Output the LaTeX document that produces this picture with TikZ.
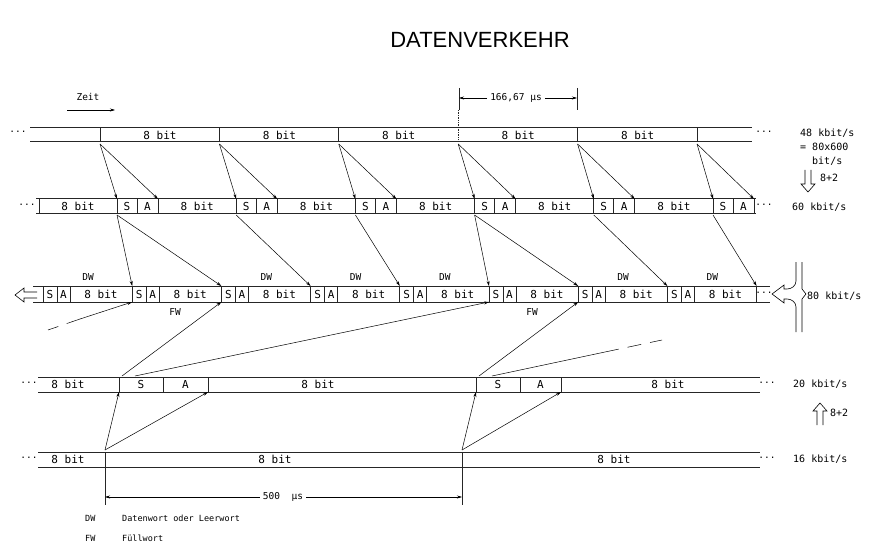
\documentclass[tikz,border=0pt]{standalone}
\usepackage{fontspec}
\setmonofont{DejaVu Sans Mono}
\newfontfamily\titlefont{Liberation Sans}
\usetikzlibrary{positioning, arrows.meta, calc}

\begin{document}
\begin{tikzpicture}[
	x=1pt, y=-1pt,
	>={Stealth[length=5pt, width=3pt]},
	band/.style={line width=1pt, black!85},
	sep/.style={line width=0.7pt, black!85},
	cell/.style={font=\ttfamily\fontsize{11}{12}\selectfont, inner sep=0pt},
	tag/.style={font=\ttfamily\fontsize{9.5}{11}\selectfont, inner sep=0pt},
	note/.style={font=\ttfamily\fontsize{8.5}{10}\selectfont, inner sep=0pt, anchor=west},
	rate/.style={font=\ttfamily\fontsize{10}{12}\selectfont, inner sep=0pt, anchor=west},
	flow/.style={->, line width=0.5pt},
	hollow/.style={line width=0.6pt, line join=miter}
	]
	\useasboundingbox (0,0) rectangle (876,559);
	
	% Title and time direction
	\node[font=\titlefont\fontsize{22}{26}\selectfont] (title) at (480,40) {DATENVERKEHR};
	\node[tag] (zeit) at (88,97) {Zeit};
	\coordinate (zeitA) at (67,110);
	\coordinate (zeitB) at (115,110);
	\draw[flow] (zeitA) -- (zeitB);
	
	% Dimension 166,67 us
	\draw[sep, line width=0.5pt] (459,88) -- (459,110) (577,88) -- (577,110);
	\node[tag, fill=white, inner xsep=3pt] (dimT) at (516,98) {166,67 µs};
	\coordinate (dimTL) at (459,98);
	\coordinate (dimTR) at (577,98);
	\draw[flow] (dimT.west) -- (dimTL);
	\draw[flow] (dimT.east) -- (dimTR);
	
	% Row 1: 48 kbit/s
	\draw[band] (30,128) -- (752,128) (30,142) -- (752,142);
	\foreach \k in {0,...,5}{
		\pgfmathsetmacro\xd{100+119.4*\k}
		\coordinate (r1d\k) at (\xd,144);
		\ifnum\k=3 \draw[sep, densely dotted] (\xd,110) -- (\xd,142);
		\else \draw[sep] (\xd,128) -- (\xd,142); \fi
	}
	\foreach \k in {0,...,4}
		\node[cell] (r1b\k) at (160+119.4*\k,135.5) {8 bit};
	\node[tag] (r1l) at (18,132) {...};
	\node[tag] (r1r) at (764,132) {...};
	
	% Row 2: 60 kbit/s
	\draw[band] (36,199) -- (756,199) (36,213) -- (756,213);
	\draw[sep] (39,199) -- (39,213);
	\foreach \k in {0,...,5}{
		\pgfmathsetmacro\xs{117+119.2*\k}
		\draw[sep] (\xs,199) -- (\xs,213) (\xs+20,199) -- (\xs+20,213) (\xs+41,199) -- (\xs+41,213);
		\coordinate (r2st\k) at (\xs,199);
		\coordinate (r2at\k) at (\xs+41,199);
		\coordinate (r2sb\k) at (\xs,215);
		\node[cell] (r2s\k) at (\xs+10,206) {S};
		\node[cell] (r2a\k) at (\xs+30.5,206) {A};
		\node[cell] (r2b\k) at (78+119.2*\k,206) {8 bit};
	}
	\node[tag] (r2l) at (27,205) {...};
	\node[tag] (r2r) at (764,205) {...};
	
	% Row 3: 80 kbit/s
	\draw[band] (33,286) -- (770,286) (33,302) -- (770,302);
	\foreach \k in {0,...,7}{
		\pgfmathsetmacro\xt{43+89.2*\k}
		\draw[sep] (\xt,286) -- (\xt,302) (\xt+14,286) -- (\xt+14,302) (\xt+27,286) -- (\xt+27,302);
		\node[cell] (r3s\k) at (\xt+7,294) {S};
		\node[cell] (r3a\k) at (\xt+20.5,294) {A};
		\node[cell] (r3b\k) at (\xt+58,294) {8 bit};
	}
	\draw[sep] (756.6,286) -- (756.6,302);
	\foreach \k in {0,...,8}{
		\coordinate (r3t\k) at (43+89.2*\k,286);
		\coordinate (r3u\k) at (43+89.2*\k,302);
	}
	\node[tag] (r3r) at (764,293) {...};
	\foreach \k in {0,2,3,4,6,7}
		\node[tag] (dw\k) at (88+89.2*\k,277) {DW};
	\foreach \k in {1,5}
		\node[tag] (fw\k) at (86+89.2*\k,312) {FW};
	
	% Row 4: 20 kbit/s
	\draw[band] (38,377) -- (760,377) (38,392) -- (760,392);
	\foreach \x in {119,163,208,476,520,561}
		\draw[sep] (\x,377) -- (\x,392);
	\node[cell] (r4b0) at (68,384.5) {8 bit};
	\node[cell] (r4s1) at (141,384.5) {S};
	\node[cell] (r4a1) at (185.5,384.5) {A};
	\node[cell] (r4b1) at (318,384.5) {8 bit};
	\node[cell] (r4s2) at (498,384.5) {S};
	\node[cell] (r4a2) at (540.5,384.5) {A};
	\node[cell] (r4b2) at (668,384.5) {8 bit};
	\node[tag] (r4l) at (29,383) {...};
	\node[tag] (r4r) at (767,383) {...};
	\coordinate (r4sb1) at (119,392);
	\coordinate (r4ab1) at (208,392);
	\coordinate (r4sb2) at (476,392);
	\coordinate (r4ab2) at (561,392);
	\coordinate (fw1a) at (122,376);
	\coordinate (fw1b) at (135,376);
	\coordinate (fw2a) at (479,376);
	\coordinate (fw2b) at (492,376);
	
	% Row 5: 16 kbit/s
	\draw[band] (38,452) -- (760,452) (38,467) -- (760,467);
	\draw[sep] (105,452) -- (105,467) (462,452) -- (462,467);
	\node[cell] (r5b0) at (68,459.5) {8 bit};
	\node[cell] (r5b1) at (275,459.5) {8 bit};
	\node[cell] (r5b2) at (614,459.5) {8 bit};
	\node[tag] (r5l) at (29,458) {...};
	\node[tag] (r5r) at (767,458) {...};
	\coordinate (r5d1) at (105,450);
	\coordinate (r5d2) at (462,450);
	
	% Dimension 500 us
	\draw[sep, line width=0.5pt] (105,467) -- (105,505) (462,467) -- (462,505);
	\node[tag, fill=white, inner xsep=3pt] (dimB) at (283,497) {500~~µs};
	\coordinate (dimBL) at (105,497);
	\coordinate (dimBR) at (462,497);
	\draw[flow] (dimB.west) -- (dimBL);
	\draw[flow] (dimB.east) -- (dimBR);
	
	% Arrows row 1 -> row 2
	\foreach \k in {0,...,5}{
		\draw[flow] (r1d\k) -- (r2st\k);
		\draw[flow] (r1d\k) -- (r2at\k);
	}
	% Arrows row 2 -> row 3 (data words)
	\foreach \k/\j in {0/1,0/2,1/3,2/4,3/5,3/6,4/7,5/8}
		\draw[flow] (r2sb\k) -- (r3t\j);
	% Arrows row 4 -> row 3 (fill words)
	\draw[flow] (fw1a) -- (r3u2);
	\draw[flow] (fw1b) -- (r3u5);
	\draw[flow] (fw2a) -- (r3u6);
	\coordinate (fwnextA) at (605,352);
	\coordinate (fwnextB) at (662,340);
	\draw[line width=0.5pt] (fw2b) -- (fwnextA);
	\draw[line width=0.5pt, dash pattern=on 14pt off 9pt] (fwnextA) -- (fwnextB);
	\coordinate (fwprevA) at (80,319);
	\coordinate (fwprevB) at (48,330);
	\draw[flow] (fwprevA) -- (r3u1);
	\draw[line width=0.5pt, dash pattern=on 14pt off 9pt] (fwprevA) -- (fwprevB);
	% Arrows row 5 -> row 4
	\draw[flow] (r5d1) -- (r4sb1);
	\draw[flow] (r5d1) -- (r4ab1);
	\draw[flow] (r5d2) -- (r4sb2);
	\draw[flow] (r5d2) -- (r4ab2);
	
	% Hollow arrows
	\draw[hollow] (37,292) -- (24,292) -- (24,288) -- (15,295) -- (24,302) -- (24,298) -- (37,298);
	\draw[hollow] (805,170) -- (805,184) -- (801,184) -- (808,192) -- (815,184) -- (811,184) -- (811,170);
	\draw[hollow] (817,425) -- (817,411) -- (813,411) -- (820,403) -- (827,411) -- (823,411) -- (823,425);
	\draw[hollow] (796,262) -- (796,281) to[out=-90, in=0] (787,289) -- (784,289) -- (784,285)
		-- (772,294) -- (784,303) -- (784,299) -- (787,299) to[out=0, in=90] (796,307) -- (796,332);
	\draw[hollow] (802,262) -- (802,289) -- (806,294) -- (802,299) -- (802,332);
	
	% Rate labels
	\node[rate] (rate48) at (800,133) {48 kbit/s};
	\node[rate] (rateEq) at (800,147) {= 80x600};
	\node[rate] (rateBit) at (812,161) {bit/s};
	\node[rate] (ratio1) at (820,178) {8+2};
	\node[rate] (rate60) at (792,207) {60 kbit/s};
	\node[rate] (rate80) at (807,296) {80 kbit/s};
	\node[rate] (rate20) at (793,384) {20 kbit/s};
	\node[rate] (ratio2) at (830,413) {8+2};
	\node[rate] (rate16) at (793,459) {16 kbit/s};
	
	% Legend
	\node[note] (legDW) at (85,518) {DW};
	\node[note] (legDWt) at (122,518) {Datenwort oder Leerwort};
	\node[note] (legFW) at (85,538) {FW};
	\node[note] (legFWt) at (122,538) {Füllwort};
	
\end{tikzpicture}
\end{document}
